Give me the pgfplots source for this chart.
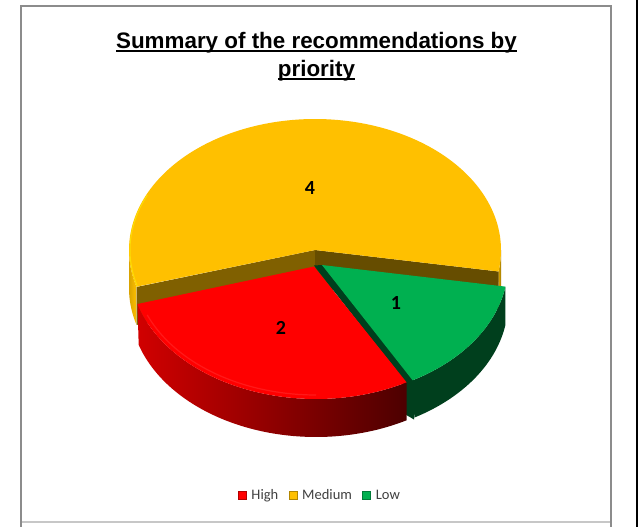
\documentclass[border=0pt]{standalone}
\usepackage{pgfplots}
\usepackage{pgfplotstable}
\usepackage{fontspec}
\pgfplotsset{compat=1.18}
\setmainfont{Carlito}
\newfontfamily\titlefont{Liberation Sans}

\definecolor{cHigh}{HTML}{FF0000}
\definecolor{cMedium}{HTML}{FFC000}
\definecolor{cLow}{HTML}{00B050}
\definecolor{frameGrey}{HTML}{8C8C8C}

% Underline set close to the baseline, running through the descenders
\newcommand{\tightul}[1]{\setbox0=\hbox{#1}\rlap{\raisebox{-3.7pt}{\rule{\wd0}{2pt}}}\box0 }

% Recommendations per priority level
\pgfplotstableread{
priority value
High     2
Medium   4
Low      1
}\shares

% Outer wall of a pie wedge: the arc along the top rim, then back along the bottom rim.
% #1 style, #2 cx, #3 cy, #4 rx, #5 ry, #6 start angle, #7 end angle
\newcommand{\wedgewall}[7]{%
  \addplot[forget plot,draw=none,#1,domain=0:2,samples=161,variable=\t]
    ({#2+#4*cos(#6+(#7-#6)*(\t<=1 ? \t : 2-\t))},
     {#3+#5*sin(#6+(#7-#6)*(\t<=1 ? \t : 2-\t))+(\t<=1 ? 0 : \depth)}) -- cycle;
}
% Top face of a pie wedge, closed through its apex (#8, #9)
\newcommand{\wedgetop}[9]{%
  \addplot[forget plot,draw=none,#1,domain=#6:#7,samples=121,variable=\t]
    ({#2+#4*cos(\t)},{#3+#5*sin(\t)}) -- (axis cs:#8,#9) -- cycle;
}
% A thin rim line following an arc
\newcommand{\rimline}[7]{%
  \addplot[forget plot,#1,domain=#6:#7,samples=80,variable=\t]
    ({#2+#4*cos(\t)},{#3+#5*sin(\t)});
}

\begin{document}
\begin{tikzpicture}
% Wedge angles follow from the table values
\pgfplotstablegetelem{0}{value}\of\shares \let\vHigh\pgfplotsretval
\pgfplotstablegetelem{1}{value}\of\shares \let\vMedium\pgfplotsretval
\pgfplotstablegetelem{2}{value}\of\shares \let\vLow\pgfplotsretval
\pgfmathsetmacro{\vTotal}{\vHigh+\vMedium+\vLow}
\pgfmathsetmacro{\angA}{9.43}
\pgfmathsetmacro{\angB}{\angA+360*\vLow/\vTotal}
\pgfmathsetmacro{\angC}{\angB+360*\vHigh/\vTotal}
\pgfmathsetmacro{\angD}{\angC+360*\vMedium/\vTotal}
\def\depth{38}
\begin{axis}[
  scale only axis,
  width=638pt,height=527pt,
  xmin=0,xmax=638,ymin=0,ymax=527,
  y dir=reverse,
  hide axis,
  clip=true,
  legend image code/.code={\path[#1] (0pt,-3.6pt) rectangle (8pt,4.4pt);},
  legend style={
    at={(axis cs:320,496)},anchor=center,
    draw=none,fill=none,
    legend columns=3,
    font=\fontsize{14.5}{16}\selectfont\color[HTML]{404040},
    nodes={text height=10pt,text depth=3pt},
    /tikz/every even column/.append style={column sep=8.5pt},
    /tikz/every odd column/.append style={column sep=3pt},
    inner sep=0pt,
  },
  legend cell align=left,
]
% Page background and chart frame
\addplot[forget plot,fill=white,draw=none] coordinates {(0,0)(638,0)(638,527)(0,527)} -- cycle;
\addplot[forget plot,draw=black,line width=2pt] coordinates {(637,0)(637,527)};
\addplot[forget plot,draw=black!22,line width=1.4pt] coordinates {(21,522)(611,522)};
\addplot[forget plot,draw=frameGrey,line width=2.2pt] coordinates {(21,527)(21,6)(611,6)(611,527)};

% Medium: outer walls, cut faces, top
\wedgewall{left color=cMedium!85!black,right color=cMedium}{315}{250}{186}{131}{\angC}{180}
\wedgewall{left color=cMedium!85!black,right color=cMedium!62!black}{315}{250}{186}{131}{0}{\angA}
\addplot[forget plot,fill=cMedium!50!black,draw=none] coordinates {(315,250)(136.5,287)(136.5,325)(315,288)} -- cycle;
\addplot[forget plot,fill=cMedium!40!black,draw=none] coordinates {(315,250)(498.5,271.5)(498.5,309.5)(315,288)} -- cycle;
\wedgetop{fill=cMedium}{315}{250}{186}{131}{\angC}{\angD}{315}{250}
\rimline{draw=yellow!60!cMedium,line width=1pt}{315}{250}{185}{130}{\angC}{205}

% Low: wall, visible cut face, top
\wedgewall{fill=cLow!36!black}{322}{265}{186}{132}{\angA}{\angB}
\addplot[forget plot,fill=cLow!36!black,draw=none] coordinates {(314,265.5)(403,380)(403,413)(414,419.5)(414,380)(322,265)} -- cycle;
\wedgetop{fill=cLow}{322}{265}{186}{132}{\angA}{\angB}{322}{265}

% High: wall, top
\wedgewall{left color=cHigh!82!black,middle color=cHigh!52!black,right color=cHigh!30!black}{316}{267}{186}{132}{\angB}{\angC}
\wedgetop{fill=cHigh}{316}{267}{186}{132}{\angB}{\angC}{314}{266.5}
\rimline{draw=red!90!white,line width=1.2pt}{316}{267}{182}{128}{90}{158}

% Legend entries, in priority order
\addlegendimage{draw=cHigh!70!black,fill=cHigh}
\addlegendentry{High}
\addlegendimage{draw=cMedium!70!black,fill=cMedium}
\addlegendentry{Medium}
\addlegendimage{draw=cLow!70!black,fill=cLow}
\addlegendentry{Low}

% Value labels on the wedges
\node[font=\fontsize{20}{22}\selectfont\bfseries] at (axis cs:310,188) {\vMedium};
\node[font=\fontsize{20}{22}\selectfont\bfseries] at (axis cs:281,328) {\vHigh};
\node[font=\fontsize{20}{22}\selectfont\bfseries] at (axis cs:396,303) {\vLow};

% Title
\node[font=\titlefont\bfseries\fontsize{22.4}{28}\selectfont,align=center,anchor=center,inner sep=0pt]
  at (axis cs:316.5,57) {\tightul{Summary of the recommendations by}\\\tightul{priority}};
\end{axis}
\end{tikzpicture}
\end{document}
